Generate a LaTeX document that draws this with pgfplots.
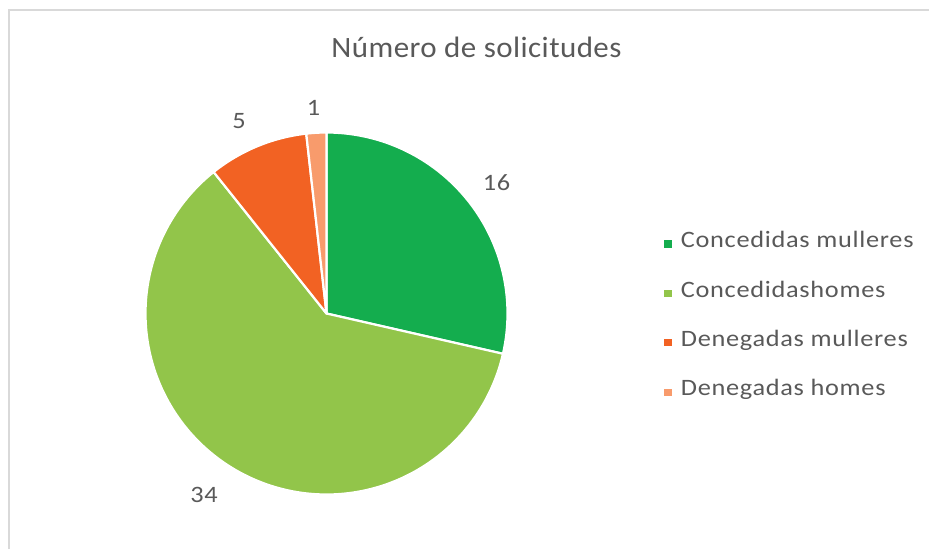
\documentclass[border=0pt]{standalone}
\usepackage{pgfplots}
\usepackage{pgfplotstable}
\pgfplotsset{compat=1.18}
\usepackage{fontspec}
\setmainfont{Carlito}
\newfontfamily\legfont[FakeStretch=1.12, LetterSpace=3]{Carlito}
\newfontfamily\titfont[FakeStretch=1.05, LetterSpace=1.5]{Carlito}
\definecolor{cA}{HTML}{14AD4E}
\definecolor{cB}{HTML}{92C54A}
\definecolor{cC}{HTML}{F26223}
\definecolor{cD}{HTML}{F89B6C}
\definecolor{txt}{HTML}{595959}
\definecolor{frame}{HTML}{D9D9D9}
\pgfplotstableread{
name value
CM 16
CH 34
DM 5
DH 1
}\pietable
\pgfplotstablegetelem{0}{value}\of\pietable \let\vA\pgfplotsretval
\pgfplotstablegetelem{1}{value}\of\pietable \let\vB\pgfplotsretval
\pgfplotstablegetelem{2}{value}\of\pietable \let\vC\pgfplotsretval
\pgfplotstablegetelem{3}{value}\of\pietable \let\vD\pgfplotsretval
\pgfmathsetmacro\tot{\vA+\vB+\vC+\vD}
\pgfmathsetmacro\aO{90}
\pgfmathsetmacro\aA{\aO-360*\vA/\tot}
\pgfmathsetmacro\aB{\aA-360*\vB/\tot}
\pgfmathsetmacro\aC{\aB-360*\vC/\tot}
\pgfmathsetmacro\aD{\aC-360*\vD/\tot}
\def\cx{326.5}
\def\cy{313.5}
\def\rr{181}
\begin{document}
\begin{tikzpicture}
\begin{axis}[
  width=929pt, height=549pt, scale only axis,
  xmin=0, xmax=929, ymin=0, ymax=549, y dir=reverse,
  hide axis, clip=false,
  legend style={at={(axis cs:662,230.5)}, anchor=north west, draw=none, fill=none,
    font=\legfont\fontsize{23.5}{28}\selectfont, text=txt, row sep=27.4pt, inner sep=0pt,
    nodes={inner sep=0pt, anchor=base west, text height=17pt, text depth=5pt}},
  legend cell align=left,
  legend image code/.code={\fill[#1] (0pt,-1pt) rectangle (9.5pt,8.5pt); \path (16.5pt,0pt);},
]
\coordinate (bl) at (axis cs:0,549);
\coordinate (tr) at (axis cs:929,0);
\addplot[fill=cA, draw=white, line width=2.2pt, line join=round, domain=\aA:\aO, samples=90, variable=\t]
  ({\cx+\rr*cos(\t)},{\cy-\rr*sin(\t)}) -- (axis cs:\cx,\cy) -- cycle;
\addlegendentry{Concedidas mulleres}
\addplot[fill=cB, draw=white, line width=2.2pt, line join=round, domain=\aB:\aA, samples=150, variable=\t]
  ({\cx+\rr*cos(\t)},{\cy-\rr*sin(\t)}) -- (axis cs:\cx,\cy) -- cycle;
\addlegendentry{Concedidashomes}
\addplot[fill=cC, draw=white, line width=2.2pt, line join=round, domain=\aC:\aB, samples=40, variable=\t]
  ({\cx+\rr*cos(\t)},{\cy-\rr*sin(\t)}) -- (axis cs:\cx,\cy) -- cycle;
\addlegendentry{Denegadas mulleres}
\addplot[fill=cD, draw=white, line width=2.2pt, line join=round, domain=\aD:\aC, samples=15, variable=\t]
  ({\cx+\rr*cos(\t)},{\cy-\rr*sin(\t)}) -- (axis cs:\cx,\cy) -- cycle;
\addlegendentry{Denegadas homes}
% frame
\draw[frame, line width=2pt] (axis cs:8.5,549) -- (axis cs:8.5,9.5) -- (axis cs:929,9.5);
% title
\node[text=txt, font=\titfont\fontsize{29.5}{34}\selectfont, anchor=base] at (axis cs:476.5,57) {Número de solicitudes};
% data labels
\begin{scope}[every node/.style={text=txt, font=\legfont\fontsize{23.5}{28}\selectfont, inner sep=0pt}]
\node at (axis cs:496.5,182.5) {\vA};
\node at (axis cs:204,495) {\vB};
\node at (axis cs:239,121.5) {\vC};
\node at (axis cs:313.5,108) {\vD};
\end{scope}
\end{axis}
\pgfresetboundingbox
\path (bl) rectangle (tr);
\end{tikzpicture}
\end{document}
